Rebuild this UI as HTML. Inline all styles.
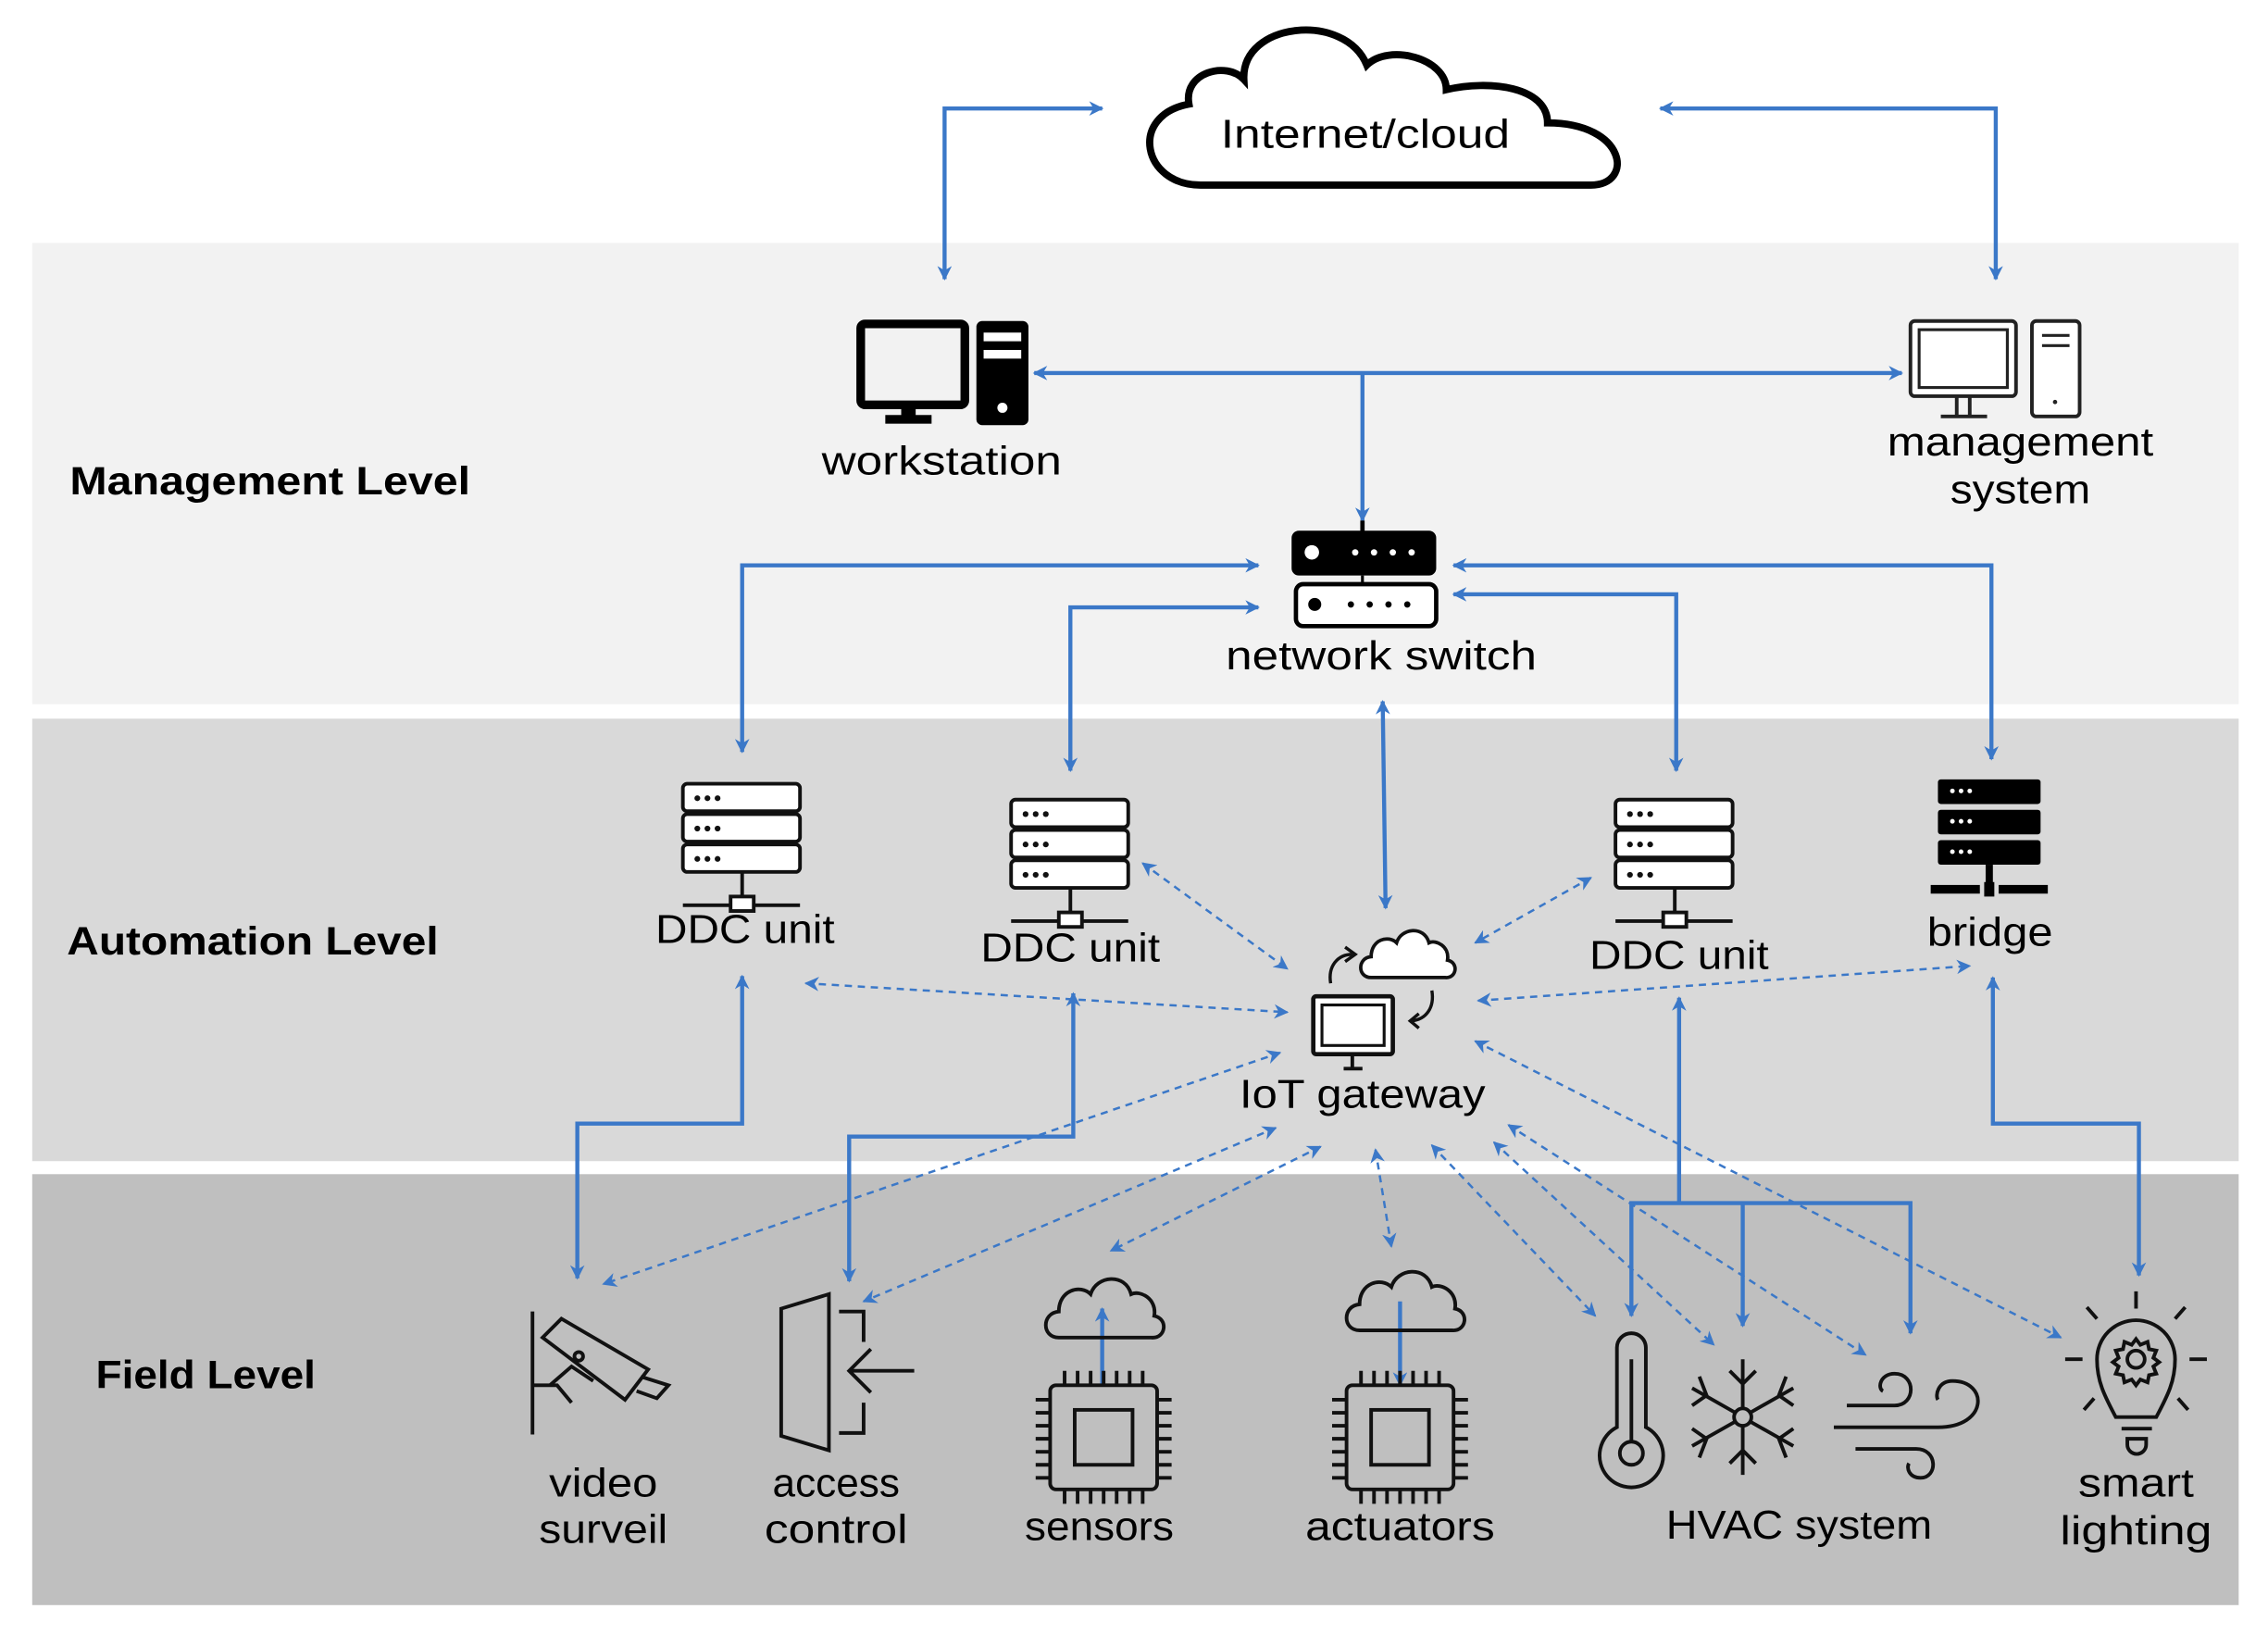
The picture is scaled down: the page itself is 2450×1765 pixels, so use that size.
<!DOCTYPE html>
<html><head><meta charset="utf-8"><style>html,body{margin:0;padding:0;background:#fff}svg{display:block}</style></head>
<body>
<svg width="2450" height="1765" viewBox="0 0 1568 1130" xmlns="http://www.w3.org/2000/svg" font-family="Liberation Sans, sans-serif">
<defs>
<marker id="a" viewBox="0 0 10 10" refX="9" refY="5" markerWidth="10" markerHeight="10" orient="auto-start-reverse" markerUnits="userSpaceOnUse"><path d="M0,0 L10,5 L0,10 L3,5z" fill="#3b78c8"/></marker>
<marker id="d" viewBox="0 0 10 10" refX="9" refY="5" markerWidth="10" markerHeight="10" orient="auto-start-reverse" markerUnits="userSpaceOnUse"><path d="M0,0 L10,5 L0,10 L3,5z" fill="#3b78c8"/></marker>
<g id="srv" fill="#fff" stroke="#111" stroke-width="2.5">
<rect x="0" y="0" width="81" height="19" rx="3"/><rect x="0" y="21" width="81" height="19" rx="3"/><rect x="0" y="42" width="81" height="19" rx="3"/>
<g fill="#111" stroke="none"><circle cx="10" cy="10" r="2"/><circle cx="17" cy="10" r="2"/><circle cx="24" cy="10" r="2"/><circle cx="10" cy="31" r="2"/><circle cx="17" cy="31" r="2"/><circle cx="24" cy="31" r="2"/><circle cx="10" cy="52" r="2"/><circle cx="17" cy="52" r="2"/><circle cx="24" cy="52" r="2"/></g>
<line x1="41" y1="61" x2="41" y2="78"/><line x1="0" y1="84" x2="81" y2="84"/><rect x="33" y="78" width="16" height="10"/>
</g>
<g id="chip" fill="none" stroke="#111" stroke-width="2.5">
<rect x="10" y="10" width="74" height="72" rx="4"/><rect x="27" y="27" width="40" height="38"/>
<path d="M20,0v10M29,0v10M38,0v10M47,0v10M56,0v10M65,0v10M74,0v10M20,82v10M29,82v10M38,82v10M47,82v10M56,82v10M65,82v10M74,82v10M0,20h10M0,29h10M0,38h10M0,47h10M0,56h10M0,65h10M0,74h10M84,20h10M84,29h10M84,38h10M84,47h10M84,56h10M84,65h10M84,74h10"/>
</g>
<path id="cl" d="M10,45 C-2,45 -2,28 10,27 C10,12 25,8 32,15 C36,2 56,0 60,15 C66,12 78,18 76,30 C86,32 84,46 74,45 Z"/>
</defs>
<rect x="22" y="168" width="1526" height="319" fill="#f2f2f2"/>
<rect x="22" y="497" width="1526" height="306" fill="#d9d9d9"/>
<rect x="22" y="812" width="1526" height="298" fill="#bfbfbf"/>

<g font-size="27" font-weight="bold" fill="#000">
<text x="48" y="342" textLength="277" lengthAdjust="spacingAndGlyphs">Management  Level</text>
<text x="46" y="660" textLength="257" lengthAdjust="spacingAndGlyphs">Automation  Level</text>
<text x="66" y="960" textLength="152" lengthAdjust="spacingAndGlyphs">Field Level</text>
</g>

<!-- cloud -->
<path d="M830,128 C790,128 780,80 822,72 C818,50 848,42 860,55 C858,15 930,8 945,45 C960,30 1000,40 1000,62 C1030,55 1070,60 1070,85 C1125,85 1130,128 1100,128 Z" fill="#fff" stroke="#000" stroke-width="5"/>
<text x="944" y="102" font-size="28" text-anchor="middle" textLength="200" lengthAdjust="spacingAndGlyphs">Internet/cloud</text>

<g fill="none" stroke="#3b78c8" stroke-width="2.8">
<path d="M653,193 V75 H762" marker-start="url(#a)" marker-end="url(#a)"/>
<path d="M1148,75 H1380 V193" marker-start="url(#a)" marker-end="url(#a)"/>
<path d="M715,258 H1315" marker-start="url(#a)" marker-end="url(#a)"/>
<path d="M942,258 V360" marker-end="url(#a)"/>
<path d="M870,391 H513 V520" marker-start="url(#a)" marker-end="url(#a)"/>
<path d="M870,420 H740 V533" marker-start="url(#a)" marker-end="url(#a)"/>
<path d="M1005,391 H1377 V525" marker-start="url(#a)" marker-end="url(#a)"/>
<path d="M1005,411 H1159 V533" marker-start="url(#a)" marker-end="url(#a)"/>
<path d="M956,485 L958,628" marker-start="url(#a)" marker-end="url(#a)"/>
<path d="M513,675 V777 H399 V884" marker-start="url(#a)" marker-end="url(#a)"/>
<path d="M742,687 V786 H587 V886" marker-start="url(#a)" marker-end="url(#a)"/>
<path d="M1161,690 V832" marker-start="url(#a)"/>
<path d="M1128,910 V832 H1321 V922" marker-start="url(#a)" marker-end="url(#a)"/>
<path d="M1205,832 V917" marker-end="url(#a)"/>
<path d="M1378,676 V777 H1479 V882" marker-start="url(#a)" marker-end="url(#a)"/>
<path d="M762,958 V905" marker-end="url(#a)"/>
<path d="M968,900 V958" marker-end="url(#a)"/>
</g>
<g fill="none" stroke="#3b78c8" stroke-width="1.6" stroke-dasharray="5,4">
<path d="M790,597 L890,670" marker-start="url(#d)" marker-end="url(#d)"/>
<path d="M557,680 L890,700" marker-start="url(#d)" marker-end="url(#d)"/>
<path d="M1100,607 L1020,652" marker-start="url(#d)" marker-end="url(#d)"/>
<path d="M1022,692 L1362,668" marker-start="url(#d)" marker-end="url(#d)"/>
<path d="M885,728 L417,888" marker-start="url(#d)" marker-end="url(#d)"/>
<path d="M882,780 L597,900" marker-start="url(#d)" marker-end="url(#d)"/>
<path d="M913,793 L768,865" marker-start="url(#d)" marker-end="url(#d)"/>
<path d="M951,795 L962,862" marker-start="url(#d)" marker-end="url(#d)"/>
<path d="M990,792 L1103,910" marker-start="url(#d)" marker-end="url(#d)"/>
<path d="M1033,790 L1185,930" marker-start="url(#d)" marker-end="url(#d)"/>
<path d="M1043,778 L1290,937" marker-start="url(#d)" marker-end="url(#d)"/>
<path d="M1020,720 L1425,925" marker-start="url(#d)" marker-end="url(#d)"/>
</g>

<!-- workstation -->
<rect x="595" y="224" width="72" height="56" rx="3" fill="none" stroke="#000" stroke-width="6"/>
<rect x="623" y="280" width="10" height="8" fill="#000"/><rect x="612" y="287" width="32" height="6" fill="#000"/>
<rect x="675" y="222" width="36" height="72" rx="4" fill="#000"/>
<rect x="680" y="230" width="26" height="6" fill="#fff"/><rect x="680" y="242" width="26" height="6" fill="#fff"/><circle cx="693" cy="282" r="3.5" fill="#fff"/>
<text x="651" y="328" font-size="28" text-anchor="middle" textLength="166" lengthAdjust="spacingAndGlyphs">workstation</text>

<!-- management system -->
<rect x="1321" y="222" width="73" height="52" rx="3" fill="#fff" stroke="#222" stroke-width="2.5"/>
<rect x="1327" y="228" width="61" height="40" fill="none" stroke="#222" stroke-width="2"/>
<path d="M1353,274 v13 M1362,274 v13 M1342,288 h32" stroke="#222" stroke-width="2.5"/>
<rect x="1405" y="222" width="33" height="66" rx="3" fill="#fff" stroke="#222" stroke-width="2.5"/>
<path d="M1412,232h19M1412,239h19" stroke="#222" stroke-width="2"/><circle cx="1421" cy="278" r="1.5" fill="#222"/>
<text x="1397" y="315" font-size="28" text-anchor="middle" textLength="184" lengthAdjust="spacingAndGlyphs">management</text>
<text x="1397" y="348" font-size="28" text-anchor="middle" textLength="97" lengthAdjust="spacingAndGlyphs">system</text>

<!-- network switch -->
<line x1="942" y1="360" x2="942" y2="368" stroke="#000" stroke-width="3"/>
<line x1="942" y1="398" x2="942" y2="405" stroke="#000" stroke-width="2"/>
<rect x="893" y="367" width="100" height="31" rx="5" fill="#000"/>
<circle cx="907" cy="382" r="5" fill="#fff"/><g fill="#fff"><circle cx="937" cy="382" r="2.2"/><circle cx="950" cy="382" r="2.2"/><circle cx="963" cy="382" r="2.2"/><circle cx="976" cy="382" r="2.2"/></g>
<rect x="896" y="404" width="97" height="29" rx="5" fill="#fff" stroke="#000" stroke-width="3"/>
<circle cx="909" cy="418" r="4.5" fill="#000"/><g fill="#000"><circle cx="934" cy="418" r="2.2"/><circle cx="947" cy="418" r="2.2"/><circle cx="960" cy="418" r="2.2"/><circle cx="973" cy="418" r="2.2"/></g>
<text x="955" y="463" font-size="28" text-anchor="middle" textLength="215" lengthAdjust="spacingAndGlyphs">network switch</text>

<!-- DDC units -->
<use href="#srv" x="472" y="542"/>
<text x="515" y="652" font-size="28" text-anchor="middle" textLength="124" lengthAdjust="spacingAndGlyphs">DDC unit</text>
<use href="#srv" x="699" y="553"/>
<text x="740" y="665" font-size="28" text-anchor="middle" textLength="124" lengthAdjust="spacingAndGlyphs">DDC unit</text>
<use href="#srv" x="1117" y="553"/>
<text x="1161" y="670" font-size="28" text-anchor="middle" textLength="124" lengthAdjust="spacingAndGlyphs">DDC unit</text>

<!-- bridge -->
<g fill="#000"><rect x="1340" y="539" width="71" height="17" rx="2"/><rect x="1340" y="560" width="71" height="17" rx="2"/><rect x="1340" y="581" width="71" height="17" rx="2"/>
<rect x="1373" y="598" width="5" height="14"/><rect x="1335" y="612" width="34" height="6"/><rect x="1372" y="610" width="7" height="10"/><rect x="1382" y="612" width="34" height="6"/></g>
<g fill="#fff"><circle cx="1350" cy="547" r="1.6"/><circle cx="1356" cy="547" r="1.6"/><circle cx="1362" cy="547" r="1.6"/><circle cx="1350" cy="568" r="1.6"/><circle cx="1356" cy="568" r="1.6"/><circle cx="1362" cy="568" r="1.6"/><circle cx="1350" cy="589" r="1.6"/><circle cx="1356" cy="589" r="1.6"/><circle cx="1362" cy="589" r="1.6"/></g>
<text x="1376" y="654" font-size="28" text-anchor="middle" textLength="87" lengthAdjust="spacingAndGlyphs">bridge</text>

<!-- IoT gateway -->
<use href="#cl" transform="translate(940,640) scale(0.8)" fill="#fff" stroke="#111" stroke-width="3"/>
<rect x="908" y="689" width="55" height="40" rx="2" fill="#fff" stroke="#111" stroke-width="3"/>
<rect x="914" y="695" width="43" height="28" fill="none" stroke="#111" stroke-width="2"/>
<path d="M935,729v9M929,739h13" stroke="#111" stroke-width="2.5"/>
<path d="M920,680 C918,668 925,660 935,660" fill="none" stroke="#111" stroke-width="2.2"/><path d="M930,655 L937,660 L930,665" fill="none" stroke="#111" stroke-width="2.2"/>
<path d="M990,685 C992,697 986,705 976,706" fill="none" stroke="#111" stroke-width="2.2"/><path d="M981,701 L975,706 L981,711" fill="none" stroke="#111" stroke-width="2.2"/>
<text x="942" y="766" font-size="28" text-anchor="middle" textLength="170" lengthAdjust="spacingAndGlyphs">IoT gateway</text>

<!-- video camera -->
<g fill="none" stroke="#111" stroke-width="2.5">
<path d="M368,907 V992 M368,958 H385 L395,970"/>
<path d="M375,925 L388,912 L448,947 L432,968 Z"/>
<circle cx="400" cy="938" r="3"/>
<path d="M443,952 L462,958 L454,967 L440,962"/>
<path d="M380,958 L395,945 L410,955"/>
</g>
<text x="417" y="1035" font-size="28" text-anchor="middle" textLength="75" lengthAdjust="spacingAndGlyphs">video</text>
<text x="417" y="1067" font-size="28" text-anchor="middle" textLength="89" lengthAdjust="spacingAndGlyphs">surveil</text>

<!-- access control -->
<g fill="none" stroke="#111" stroke-width="2.5">
<path d="M540,905 L573,895 V1003 L540,993 Z"/>
<path d="M580,907 H597 V928 M580,991 H597 V970"/>
<path d="M588,948 H632 M602,933 L587,948 L602,963"/>
</g>
<text x="578" y="1035" font-size="28" text-anchor="middle" textLength="88" lengthAdjust="spacingAndGlyphs">access</text>
<text x="578" y="1067" font-size="28" text-anchor="middle" textLength="99" lengthAdjust="spacingAndGlyphs">control</text>

<!-- sensors -->
<use href="#cl" transform="translate(722,880)" fill="none" stroke="#111" stroke-width="2.5"/>
<use href="#chip" x="716" y="948"/>
<text x="760" y="1065" font-size="28" text-anchor="middle" textLength="103" lengthAdjust="spacingAndGlyphs">sensors</text>

<!-- actuators -->
<use href="#cl" transform="translate(930,875)" fill="none" stroke="#111" stroke-width="2.5"/>
<use href="#chip" x="921" y="948"/>
<text x="968" y="1065" font-size="28" text-anchor="middle" textLength="131" lengthAdjust="spacingAndGlyphs">actuators</text>

<!-- thermometer -->
<g fill="none" stroke="#111" stroke-width="2.5">
<path d="M1118,987 V932 a10,10 0 0 1 20,0 V987 a22,22 0 1 1 -20,0 Z"/>
<circle cx="1128" cy="1005" r="8"/><path d="M1128,997 V940"/>
</g>
<!-- snowflake -->
<g fill="none" stroke="#111" stroke-width="2.5">
<circle cx="1205" cy="980" r="6"/>
<path d="M1205,940 V974 M1205,986 V1020 M1170,960 L1200,977 M1210,983 L1240,1000 M1240,960 L1210,977 M1200,983 L1170,1000"/>
<path d="M1196,948 L1205,957 L1214,948 M1196,1012 L1205,1003 L1214,1012 M1175,952 L1180,965 L1170,972 M1235,952 L1230,965 L1240,972 M1175,1008 L1180,995 L1170,988 M1235,1008 L1230,995 L1240,988"/>
</g>
<!-- wind -->
<g fill="none" stroke="#111" stroke-width="2.5">
<path d="M1277,972 H1310 C1325,972 1325,950 1310,950 C1300,950 1298,960 1302,962"/>
<path d="M1268,987 H1340 C1375,987 1375,955 1350,955 C1340,955 1338,965 1340,968"/>
<path d="M1283,1002 H1325 C1340,1002 1340,1022 1328,1022 C1320,1022 1318,1015 1320,1012"/>
</g>
<text x="1244" y="1064" font-size="28" text-anchor="middle" textLength="184" lengthAdjust="spacingAndGlyphs">HVAC system</text>

<!-- bulb -->
<g fill="none" stroke="#111" stroke-width="2.5">
<path d="M1463,980 C1455,965 1450,955 1450,940 a27,27 0 0 1 54,0 C1504,955 1499,965 1491,980 Z"/>
<path d="M1467,988 H1488 M1471,995 h13 v4 a6,6 0 0 1 -13,0 Z"/>
<path d="M1477,893 v12 M1440,940 h-12 M1514,940 h12 M1450,912 l-7,-8 M1504,912 l7,-8 M1448,967 l-7,8 M1506,967 l7,8"/>
<circle cx="1477" cy="940" r="6"/>
<path d="M1477,926 l3,4 5,-2 1,5 5,1 -2,5 4,3 -4,3 2,5 -5,1 -1,5 -5,-2 -3,4 -3,-4 -5,2 -1,-5 -5,-1 2,-5 -4,-3 4,-3 -2,-5 5,-1 1,-5 5,2 Z"/>
</g>
<text x="1477" y="1035" font-size="28" text-anchor="middle" textLength="80" lengthAdjust="spacingAndGlyphs">smart</text>
<text x="1477" y="1068" font-size="28" text-anchor="middle" textLength="105" lengthAdjust="spacingAndGlyphs">lighting</text>
</svg>
</body></html>
